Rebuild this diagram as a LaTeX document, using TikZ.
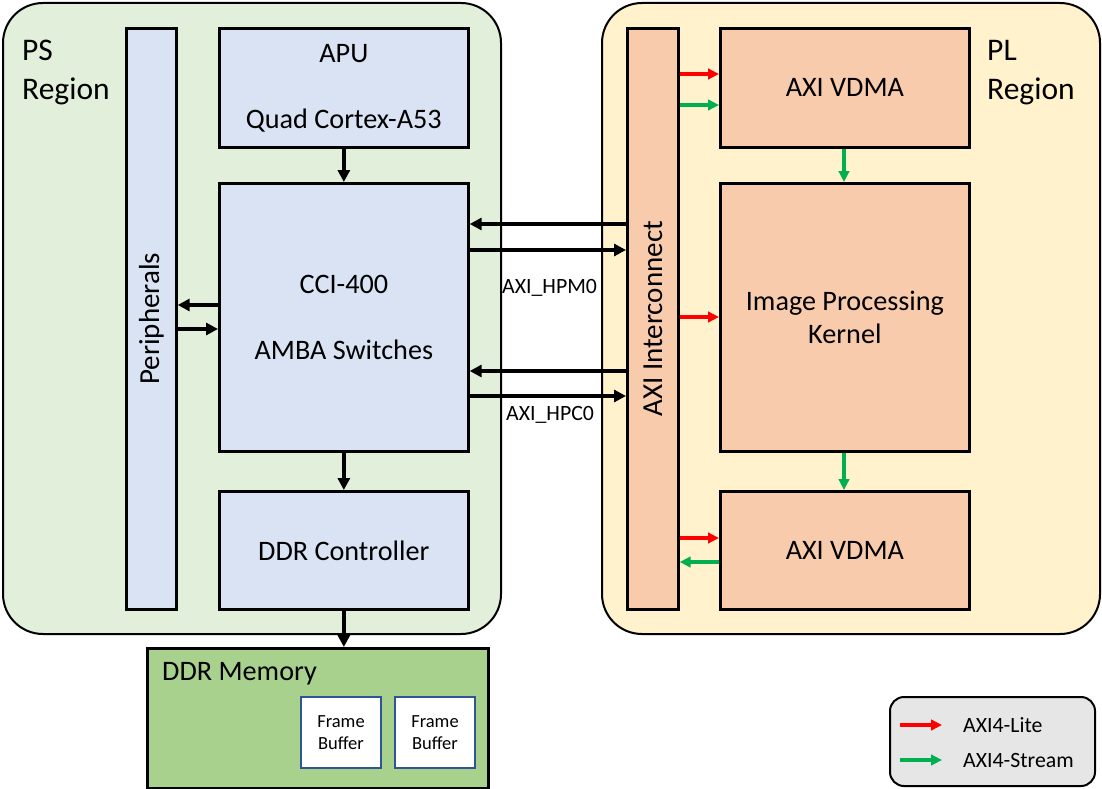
\documentclass[tikz,border=0pt]{standalone}
\usepackage{fontspec}
\setmainfont{Carlito}
\usetikzlibrary{arrows.meta}
\definecolor{psfill}{HTML}{E2EFDA}
\definecolor{plfill}{HTML}{FFF2CC}
\definecolor{bluebox}{HTML}{DAE3F3}
\definecolor{orangebox}{HTML}{F8CBAD}
\definecolor{memfill}{HTML}{A9D18E}
\definecolor{legfill}{HTML}{E7E6E6}
\definecolor{fbborder}{HTML}{2F5597}
\definecolor{litered}{HTML}{FF0000}
\definecolor{streamgreen}{HTML}{00B050}
\begin{document}
\begin{tikzpicture}[x=1pt,y=-1pt,
  region/.style={draw=black, line width=2pt, rounded corners=40pt, anchor=north west, inner sep=0pt},
  blk/.style={draw=black, line width=2.7pt, anchor=north west, inner sep=0pt, align=center,
    font=\fontsize{28.2}{33}\selectfont},
  lbl/.style={inner sep=0pt, font=\fontsize{28.2}{33}\selectfont},
  rlbl/.style={inner sep=0pt, font=\fontsize{31.5}{38}\selectfont},
  vlbl/.style={inner sep=0pt, rotate=90, font=\fontsize{29}{34}\selectfont},
  small/.style={inner sep=0pt, font=\fontsize{21.8}{26}\selectfont},
  fb/.style={draw=fbborder, line width=2pt, fill=white, anchor=north west, inner sep=0pt,
    align=center, minimum width=80pt, minimum height=71pt, font=\fontsize{18.5}{22.5}\selectfont},
  blackarr/.style={draw=black, line width=3.4pt, -{Triangle[length=12pt,width=12pt]}},
  redarr/.style={draw=litered, line width=3.4pt, -{Triangle[length=11pt,width=10.5pt]}},
  greenarr/.style={draw=streamgreen, line width=3.4pt, -{Triangle[length=11pt,width=10.5pt]}}
]
\useasboundingbox (0,0) rectangle (1102,789);

% regions
\node[region, fill=psfill, minimum width=498pt, minimum height=631pt] (ps) at (2,2) {};
\node[region, fill=plfill, minimum width=498pt, minimum height=631pt] (pl) at (601,2) {};

\node[rlbl, anchor=base west] (pst1) at (22,61) {PS};
\node[rlbl, anchor=base west] (pst2) at (22,100) {Region};
\node[rlbl, anchor=base west] (plt1) at (987,61) {PL};
\node[rlbl, anchor=base west] (plt2) at (987,100) {Region};

% PS blocks
\node[blk, fill=bluebox, minimum width=50pt, minimum height=581pt] (per) at (125,27) {};
\node[vlbl] (pertxt) at (per.center) {Peripherals};
\node[blk, fill=bluebox, minimum width=249pt, minimum height=119pt] (apu) at (218,27) {APU\\[33pt]Quad Cortex-A53};
\node[blk, fill=bluebox, minimum width=249pt, minimum height=268pt] (cci) at (218,182) {CCI-400\\[33pt]AMBA Switches};
\node[blk, fill=bluebox, minimum width=249pt, minimum height=118pt] (ddrc) at (218,490) {DDR Controller};

% PL blocks
\node[blk, fill=orangebox, minimum width=51pt, minimum height=581pt] (axi) at (626,27) {};
\node[vlbl] (axitxt) at (axi.center) {AXI Interconnect};
\node[blk, fill=orangebox, minimum width=249pt, minimum height=119pt] (vdma1) at (719,27) {AXI VDMA};
\node[blk, fill=orangebox, minimum width=249pt, minimum height=268pt] (ipk) at (719,182) {Image Processing\\Kernel};
\node[blk, fill=orangebox, minimum width=249pt, minimum height=118pt] (vdma2) at (719,490) {AXI VDMA};

% DDR memory
\node[blk, fill=memfill, minimum width=341pt, minimum height=140pt] (mem) at (146,647) {};
\node[lbl, anchor=base west] (memtxt) at (162,680) {DDR Memory};
\node[fb] (fb1) at (300,696) {Frame\\Buffer};
\node[fb] (fb2) at (394,696) {Frame\\Buffer};

% legend
\node[draw=black, line width=2pt, fill=legfill, rounded corners=14pt, anchor=north west,
  minimum width=205pt, minimum height=89pt, inner sep=0pt] (leg) at (889,696) {};
\coordinate (lr1) at (900,725);
\coordinate (lr2) at (942,725);
\coordinate (lg1) at (900,760);
\coordinate (lg2) at (942,760);
\draw[redarr] (lr1) -- (lr2);
\draw[greenarr] (lg1) -- (lg2);
\node[small, anchor=west] (legt1) at (963,725) {AXI4-Lite};
\node[small, anchor=west] (legt2) at (963,760) {AXI4-Stream};

% black arrows
\draw[blackarr] (apu.south) -- (cci.north);
\draw[blackarr] (cci.south) -- (ddrc.north);
\draw[blackarr] (ddrc.south) -- (ddrc.south |- mem.north);
\draw[blackarr] (cci.west |- 0,305) -- (per.east |- 0,305);
\draw[blackarr] (per.east |- 0,329) -- (cci.west |- 0,329);
\draw[blackarr] (axi.west |- 0,224) -- (cci.east |- 0,224);
\draw[blackarr] (cci.east |- 0,250) -- (axi.west |- 0,250);
\draw[blackarr] (axi.west |- 0,371) -- (cci.east |- 0,371);
\draw[blackarr] (cci.east |- 0,396) -- (axi.west |- 0,396);
\node[small, anchor=west] (hpm) at (502,288) {AXI\_HPM0};
\node[small, anchor=west] (hpc) at (506,415) {AXI\_HPC0};

% coloured arrows
\draw[redarr] (axi.east |- 0,74) -- (vdma1.west |- 0,74);
\draw[greenarr] (axi.east |- 0,105) -- (vdma1.west |- 0,105);
\draw[redarr] (axi.east |- 0,317) -- (ipk.west |- 0,317);
\draw[redarr] (axi.east |- 0,538) -- (vdma2.west |- 0,538);
\draw[greenarr] (vdma2.west |- 0,562) -- (axi.east |- 0,562);
\draw[greenarr] (vdma1.south -| 844,0) -- (ipk.north -| 844,0);
\draw[greenarr] (ipk.south -| 844,0) -- (vdma2.north -| 844,0);
\end{tikzpicture}
\end{document}
